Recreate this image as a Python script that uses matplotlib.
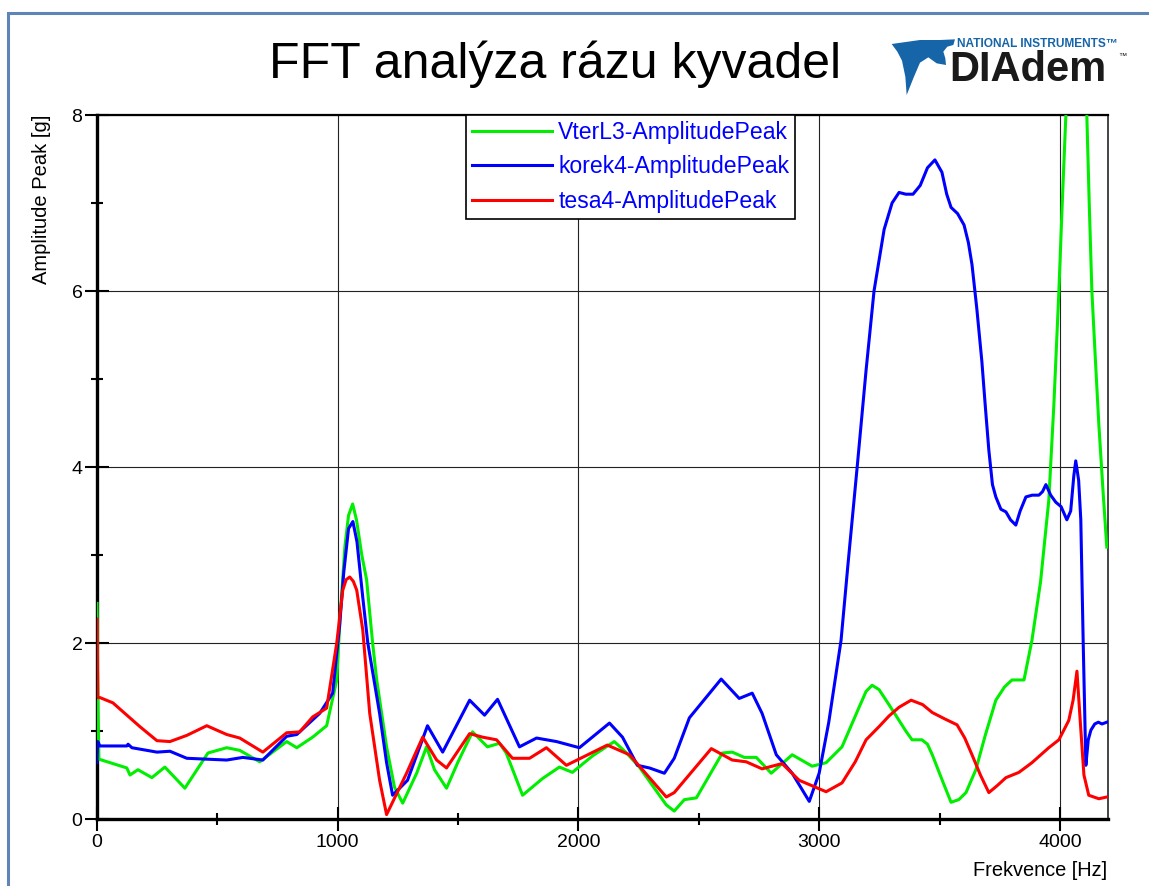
import matplotlib
matplotlib.use("Agg")
import matplotlib.pyplot as plt
from matplotlib.patches import Rectangle, Polygon
from matplotlib.ticker import MultipleLocator

plt.rcParams['font.family'] = ['Liberation Sans', 'DejaVu Sans']

W, H = 1149, 886

# --- data -----------------------------------------------------------------
green_hz = [0, 4, 8, 124, 137, 170, 228, 282, 365, 461, 539, 593, 676, 788, 830,
            896, 954, 996, 1010, 1030, 1045, 1062, 1078, 1100, 1120, 1145, 1162,
            1203, 1236, 1270, 1328, 1369, 1402, 1452, 1500, 1560, 1622, 1672, 1700,
            1768, 1851, 1921, 1975, 2060, 2149, 2200, 2253, 2365, 2398, 2440, 2490,
            2598, 2639, 2689, 2739, 2801, 2888, 2971, 3029, 3095, 3166, 3195, 3220,
            3249, 3290, 3332, 3360, 3386, 3427, 3450, 3470, 3510, 3548, 3580, 3610,
            3651, 3690, 3734, 3770, 3801, 3851, 3884, 3920, 3954, 3975, 3996, 4010,
            4025, 4068, 4112, 4122, 4133, 4148, 4162, 4180, 4195]
green_amp = [2.45, 1.3, 0.68, 0.58, 0.50, 0.56, 0.47, 0.59, 0.35, 0.75, 0.81, 0.78,
             0.65, 0.88, 0.81, 0.93, 1.06, 1.58, 2.3, 3.1, 3.45, 3.58, 3.4, 3.0, 2.72,
             2.0, 1.58, 0.82, 0.36, 0.18, 0.52, 0.82, 0.56, 0.35, 0.65, 0.99, 0.82,
             0.86, 0.75, 0.27, 0.46, 0.59, 0.53, 0.72, 0.88, 0.75, 0.59, 0.16, 0.09,
             0.22, 0.24, 0.75, 0.76, 0.70, 0.70, 0.52, 0.73, 0.60, 0.64, 0.82, 1.27,
             1.45, 1.52, 1.47, 1.30, 1.12, 1.0, 0.90, 0.90, 0.85, 0.73, 0.45, 0.19,
             0.22, 0.30, 0.56, 0.95, 1.35, 1.50, 1.58, 1.58, 2.03, 2.7, 3.62, 4.7,
             6.0, 7.0, 8.0, 12.0, 8.0, 7.0, 6.0, 5.2, 4.48, 3.7, 3.09]

blue_hz = [0, 3, 12, 124, 129, 145, 249, 303, 373, 456, 539, 606, 689, 788, 830,
           925, 979, 1008, 1025, 1045, 1063, 1080, 1104, 1125, 1174, 1203, 1228,
           1290, 1373, 1436, 1548, 1610, 1664, 1755, 1826, 1909, 2004, 2129, 2183,
           2245, 2295, 2357, 2398, 2461, 2515, 2593, 2668, 2722, 2763, 2822, 2888,
           2959, 3000, 3040, 3091, 3120, 3158, 3195, 3228, 3270, 3303, 3332, 3360,
           3390, 3420, 3450, 3481, 3510, 3530, 3548, 3575, 3602, 3620, 3635, 3655,
           3676, 3690, 3705, 3720, 3734, 3755, 3776, 3795, 3817, 3835, 3859, 3885,
           3913, 3928, 3942, 3962, 3983, 4005, 4029, 4045, 4058, 4066, 4078, 4087,
           4097, 4108, 4118, 4129, 4145, 4160, 4175, 4195]
blue_amp = [0.64, 0.88, 0.83, 0.83, 0.85, 0.81, 0.76, 0.77, 0.69, 0.68, 0.67, 0.70,
            0.67, 0.94, 0.96, 1.20, 1.43, 2.2, 2.8, 3.3, 3.38, 3.15, 2.52, 2.0, 1.2,
            0.64, 0.27, 0.44, 1.06, 0.76, 1.35, 1.18, 1.36, 0.82, 0.92, 0.88, 0.81,
            1.09, 0.93, 0.61, 0.58, 0.52, 0.69, 1.15, 1.33, 1.59, 1.37, 1.43, 1.2,
            0.73, 0.52, 0.2, 0.52, 1.1, 2.03, 2.9, 4.0, 5.1, 6.0, 6.7, 7.0, 7.12,
            7.1, 7.1, 7.2, 7.4, 7.49, 7.35, 7.1, 6.95, 6.88, 6.75, 6.55, 6.3, 5.8,
            5.2, 4.7, 4.19, 3.8, 3.66, 3.52, 3.49, 3.4, 3.34, 3.5, 3.66, 3.68, 3.68,
            3.72, 3.8, 3.68, 3.6, 3.55, 3.4, 3.5, 3.9, 4.07, 3.85, 3.4, 2.0, 0.61,
            0.9, 1.01, 1.08, 1.1, 1.08, 1.1]

red_hz = [0, 3, 12, 66, 124, 178, 249, 303, 373, 456, 539, 593, 689, 788, 842,
          896, 954, 996, 1021, 1035, 1050, 1065, 1079, 1104, 1133, 1174, 1203, 1286,
          1353, 1411, 1452, 1548, 1602, 1660, 1726, 1797, 1867, 1950, 2120, 2212,
          2365, 2398, 2552, 2639, 2697, 2763, 2846, 2917, 3029, 3095, 3150, 3195,
          3249, 3290, 3332, 3382, 3430, 3470, 3520, 3573, 3605, 3635, 3670, 3705,
          3740, 3776, 3830, 3884, 3954, 3996, 4037, 4055, 4071, 4085, 4100, 4120,
          4162, 4195]
red_amp = [2.27, 1.38, 1.38, 1.32, 1.18, 1.05, 0.89, 0.88, 0.95, 1.06, 0.96, 0.92,
           0.76, 0.98, 0.99, 1.16, 1.26, 2.0, 2.6, 2.72, 2.75, 2.7, 2.6, 2.15, 1.2,
           0.44, 0.05, 0.52, 0.93, 0.67, 0.58, 0.97, 0.93, 0.90, 0.69, 0.69, 0.81,
           0.61, 0.84, 0.73, 0.25, 0.30, 0.80, 0.67, 0.65, 0.57, 0.63, 0.44, 0.31,
           0.41, 0.65, 0.90, 1.05, 1.17, 1.27, 1.35, 1.30, 1.21, 1.14, 1.07, 0.92,
           0.73, 0.50, 0.30, 0.38, 0.47, 0.53, 0.64, 0.81, 0.90, 1.12, 1.35, 1.68,
           1.1, 0.5, 0.27, 0.23, 0.25]

series_names = ["VterL3-AmplitudePeak", "korek4-AmplitudePeak", "tesa4-AmplitudePeak"]
x_ticks = [0, 1000, 2000, 3000, 4000]
y_ticks = [0, 2, 4, 6, 8]

# --- figure ---------------------------------------------------------------
fig = plt.figure(figsize=(W / 100, H / 100), dpi=100)
fig.patch.set_facecolor("white")


def fx(px):
    return px / W


def fy(py):
    return 1 - py / H


# slide frame
fig.patches.append(Rectangle((fx(8), fy(H + 40)), fx(W + 40) - fx(8), fy(13) - fy(H + 40),
                             transform=fig.transFigure, fill=False,
                             edgecolor="#5f84b6", linewidth=2.2))

fig.text(fx(555), fy(64), "FFT analýza rázu kyvadel", fontsize=36,
         ha="center", va="center", color="black")

# DIAdem logo
bird = [(95, 72), (180, 60), (240, 60), (285, 58), (280, 75), (262, 80), (250, 95),
        (256, 115), (258, 135), (230, 130), (205, 112), (180, 128), (162, 170),
        (140, 225), (136, 170), (126, 122), (112, 95)]
fig.patches.append(Polygon([(fx(860 + x / 3), fy(20 + y / 3)) for x, y in bird],
                           closed=True, transform=fig.transFigure,
                           facecolor="#1565a8", edgecolor="none"))
fig.text(fx(957), fy(44), "NATIONAL INSTRUMENTS\u2122", fontsize=8.6, fontweight="bold",
         color="#1565a8", ha="left", va="center")
fig.text(fx(949), fy(70), "DIAdem", fontsize=30, fontweight="bold",
         color="#1a1a1a", ha="left", va="center")
fig.text(fx(1118), fy(57), "\u2122", fontsize=6, color="#1a1a1a", ha="left", va="center")

ax = fig.add_axes([fx(97), fy(819), fx(1108) - fx(97), fy(115) - fy(819)])
ax.set_xlim(0, 4200)
ax.set_ylim(0, 8)

ax.plot(green_hz, green_amp, color="#00ee00", lw=2.2, label=series_names[0], zorder=3)
ax.plot(blue_hz, blue_amp, color="#0000ff", lw=2.2, label=series_names[1], zorder=3)
ax.plot(red_hz, red_amp, color="#ff0000", lw=2.2, label=series_names[2], zorder=3)

ax.set_xticks(x_ticks)
ax.set_yticks(y_ticks)
ax.xaxis.set_minor_locator(MultipleLocator(500))
ax.yaxis.set_minor_locator(MultipleLocator(1))
ax.tick_params(axis="both", which="major", direction="inout", length=17, width=1.5,
               labelsize=14, colors="black")
ax.tick_params(axis="both", which="minor", direction="inout", length=8, width=1.5)
ax.tick_params(axis="x", which="major", pad=2)
ax.tick_params(axis="y", which="major", pad=2)
ax.grid(True, which="major", color="#222222", linewidth=0.8)

for side in ("left", "bottom"):
    ax.spines[side].set_linewidth(2.4)
ax.spines["top"].set_linewidth(1.6)
ax.spines["right"].set_linewidth(1.4)
ax.spines["right"].set_color("#444444")

fig.text(fx(42), fy(115), "Amplitude Peak [g]", rotation=90, fontsize=14.5,
         ha="center", va="top")
fig.text(fx(1107), fy(871), "Frekvence [Hz]", fontsize=14.4, ha="right", va="center")

leg = ax.legend(loc="upper left", bbox_to_anchor=((466 - 97) / 1011, 1.0),
                borderaxespad=0, fontsize=16.6, handlelength=3.5, handletextpad=0.25,
                labelspacing=0.5, borderpad=0.25, fancybox=False, framealpha=1,
                edgecolor="black")
leg.get_frame().set_linewidth(1.2)
leg.set_zorder(5)
for t in leg.get_texts():
    t.set_color("#0000ff")

fig.savefig("out.png", dpi=100)
